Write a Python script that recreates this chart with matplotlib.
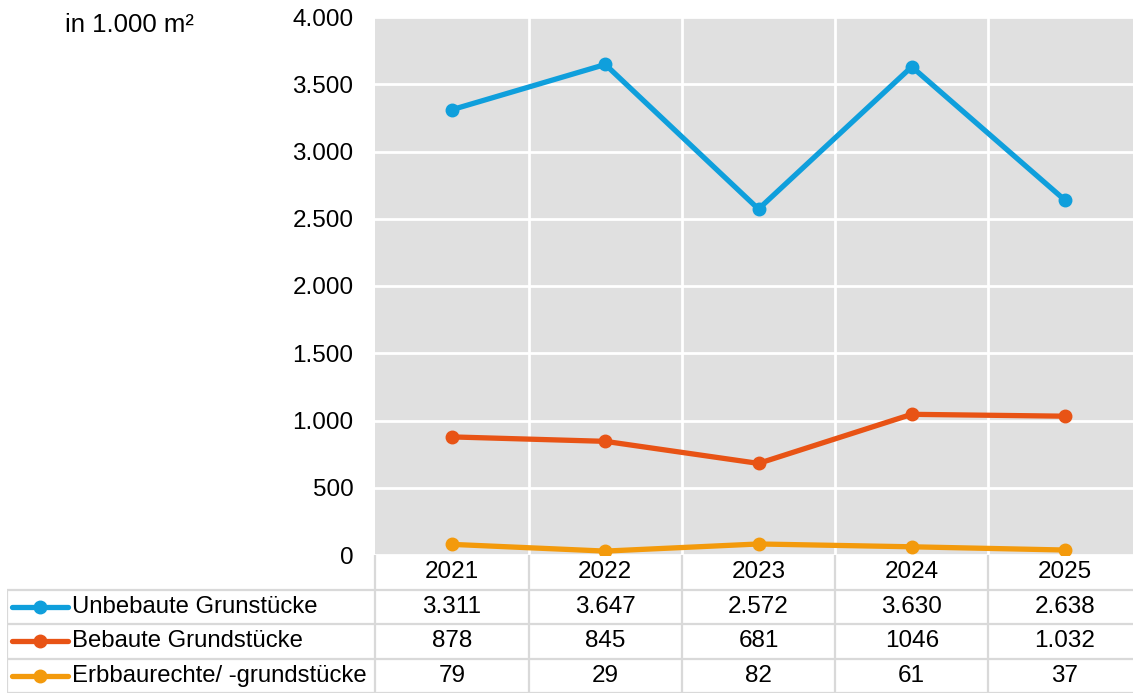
import matplotlib
matplotlib.use("Agg")
import matplotlib.pyplot as plt
from matplotlib.lines import Line2D

years = ["2021", "2022", "2023", "2024", "2025"]
unbebaut = [3311, 3647, 2572, 3630, 2638]
bebaut = [878, 845, 681, 1046, 1032]
erbbau = [79, 29, 82, 61, 37]
unbebaut_txt = ["3.311", "3.647", "2.572", "3.630", "2.638"]
bebaut_txt = ["878", "845", "681", "1046", "1.032"]
erbbau_txt = ["79", "29", "82", "61", "37"]
names = ["Unbebaute Grunstücke", "Bebaute Grundstücke", "Erbbaurechte/ -grundstücke"]
colors = ["#0f9fdc", "#e85315", "#f39a0c"]
yticks = [0, 500, 1000, 1500, 2000, 2500, 3000, 3500, 4000]
ytick_labels = ["0", "500", "1.000", "1.500", "2.000", "2.500", "3.000", "3.500", "4.000"]

plt.rcParams["font.family"] = ["Liberation Sans", "DejaVu Sans"]
num_fs = 17.5
lab_fs = 17.2

W, H = 1133, 693
fig = plt.figure(figsize=(W / 100, H / 100), dpi=100)

# plot area in pixels
x0, x1 = 375.4, 1141.6
y_top, y_bot = 17, 555
ax = fig.add_axes([x0 / W, (H - y_bot) / H, (x1 - x0) / W, (y_bot - y_top) / H])
ax.set_facecolor("#e0e0e0")
ax.set_xlim(-0.5, 4.5)
ax.set_ylim(0, 4000)
ax.set_yticks(yticks)
ax.set_yticklabels(ytick_labels, fontsize=num_fs)
ax.set_xticks([0.5, 1.5, 2.5, 3.5])
ax.set_xticklabels([])
ax.tick_params(length=0, pad=15.8)
ax.grid(True, color="white", linewidth=2)
ax.set_axisbelow(True)
for s in ax.spines.values():
    s.set_visible(False)

xs = range(len(years))
for vals, c in zip([unbebaut, bebaut, erbbau], colors):
    ax.plot(xs, vals, color=c, linewidth=3.8, marker="o", markersize=9, solid_capstyle="round")

fig.text(65 / W, 1 - 25 / H, "in 1.000 m²", fontsize=18.5, va="center", ha="left")

# table below the plot
tx0 = 7
cat_w = (x1 - x0) / 5
tab = fig.add_axes([tx0 / W, 0, (x1 - tx0) / W, (H - y_bot) / H])
left_lim = -0.5 - (x0 - tx0) / cat_w
tab.set_xlim(left_lim, 4.5)
tab.set_ylim(4, 0)
tab.axis("off")
grid_c = "#d9d9d9"
lw = 1.6
tab.hlines([1, 2, 3, 4], left_lim, 4.5, color=grid_c, linewidth=lw)
tab.vlines([-0.5, 0.5, 1.5, 2.5, 3.5], 0, 4, color=grid_c, linewidth=lw)
tab.vlines([left_lim + 0.002], 1, 4, color=grid_c, linewidth=lw)

for i, y in enumerate(years):
    tab.text(i, 0.5, y, ha="center", va="center", fontsize=num_fs)
for r, row in enumerate([unbebaut_txt, bebaut_txt, erbbau_txt]):
    for i, t in enumerate(row):
        tab.text(i, r + 1.5, t, ha="center", va="center", fontsize=num_fs)

# legend keys in the first column
px = 1 / cat_w
for r, (n, c) in enumerate(zip(names, colors)):
    yc = r + 1.5
    tab.add_line(Line2D([left_lim + 5 * px, left_lim + 61 * px], [yc, yc], color=c, linewidth=3.8,
                        solid_capstyle="round"))
    tab.plot([left_lim + 33 * px], [yc], marker="o", color=c, markersize=9)
    tab.text(left_lim + 65 * px, yc, n, ha="left", va="center", fontsize=lab_fs)

fig.savefig("out.png", dpi=100)
